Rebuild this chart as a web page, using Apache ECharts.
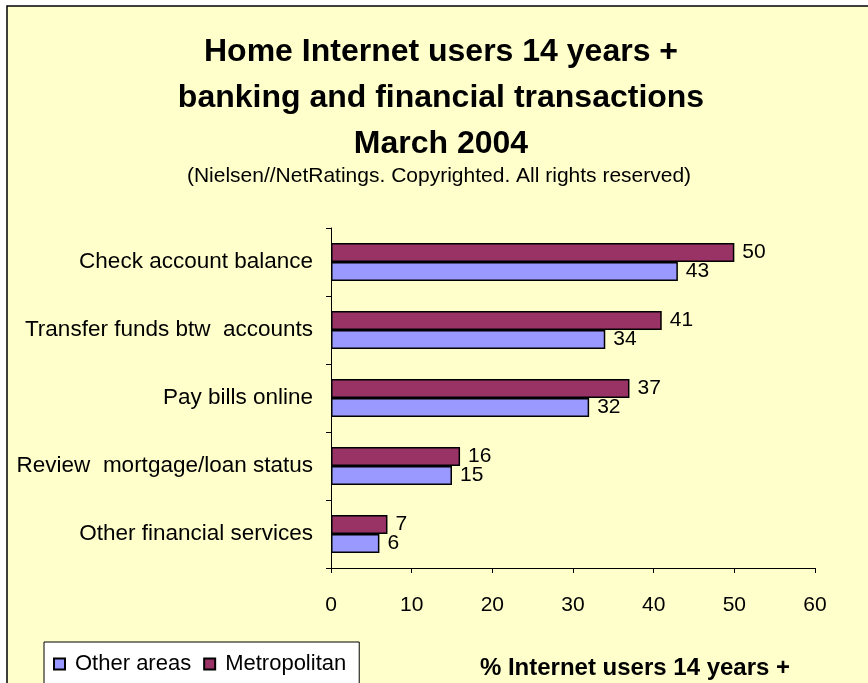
<!DOCTYPE html>
<html>
<head>
<meta charset="utf-8">
<script src="https://cdn.jsdelivr.net/npm/echarts@6/dist/echarts.min.js"></script>
<style>
  html, body { margin: 0; padding: 0; background: #ffffff; }
  #chart { width: 868px; height: 683px; }
</style>
</head>
<body>
<div id="chart"></div>
<script>
// Activities, listed top to bottom
const categories = [
  'Check account balance',
  'Transfer funds btw  accounts',
  'Pay bills online',
  'Review  mortgage/loan status',
  'Other financial services'
];
// Share of home Internet users 14+ (%)
const otherAreas = [43, 34, 32, 15, 6];
const metropolitan = [50, 41, 37, 16, 7];
const xTicks = { min: 0, max: 60, interval: 10 };

const FONT = "'Liberation Sans', Arial, sans-serif";

const chart = echarts.init(document.getElementById('chart'), null, { renderer: 'canvas' });

const labelStyle = {
  show: true,
  position: 'right',
  distance: 8,
  color: '#000',
  fontSize: 21,
  fontFamily: FONT
};

chart.setOption({
  animation: false,
  backgroundColor: '#ffffff',
  graphic: [{
    type: 'rect',
    z: -10,
    shape: { x: 7, y: 6, width: 900, height: 720 },
    style: { fill: '#FFFFCC', stroke: '#000', lineWidth: 1.5 }
  }],
  title: [{
    text: 'Home Internet users 14 years +\nbanking and financial transactions\nMarch 2004',
    left: 436,
    top: 24,
    textAlign: 'center',
    textStyle: { fontFamily: FONT, fontSize: 32, fontWeight: 'bold', color: '#000', lineHeight: 46 }
  }, {
    text: '(Nielsen//NetRatings. Copyrighted. All rights reserved)',
    left: 434,
    top: 161,
    textAlign: 'center',
    textStyle: { fontFamily: FONT, fontSize: 21, fontWeight: 'normal', color: '#000' }
  }, {
    text: '% Internet users 14 years +',
    left: 630,
    top: 651,
    textAlign: 'center',
    textStyle: { fontFamily: FONT, fontSize: 24, fontWeight: 'bold', color: '#000' }
  }],
  legend: {
    data: ['Other areas', 'Metropolitan'],
    orient: 'horizontal',
    left: 44,
    top: 642,
    padding: [11, 13, 30, 9],
    backgroundColor: '#ffffff',
    borderColor: '#000',
    borderWidth: 1,
    borderRadius: 0,
    itemGap: 12,
    itemWidth: 11,
    itemHeight: 11,
    icon: 'rect',
    textStyle: { fontFamily: FONT, fontSize: 22, color: '#000', padding: [0, 0, 0, 5] }
  },
  grid: { left: 331, right: 53, top: 228, bottom: 115, containLabel: false },
  xAxis: {
    type: 'value',
    min: xTicks.min,
    max: xTicks.max,
    interval: xTicks.interval,
    axisLine: { show: true, lineStyle: { color: '#000', width: 1 } },
    axisTick: { show: true, inside: false, length: 5, lineStyle: { color: '#000' } },
    splitLine: { show: false },
    axisLabel: { margin: 27, color: '#000', fontSize: 21, fontFamily: FONT }
  },
  yAxis: {
    type: 'category',
    inverse: true,
    data: categories,
    axisLine: { show: true, lineStyle: { color: '#000', width: 1 } },
    axisTick: { show: true, inside: false, length: 5, alignWithLabel: false, lineStyle: { color: '#000' } },
    axisLabel: { margin: 18, color: '#000', fontSize: 22.5, fontFamily: FONT }
  },
  // Metropolitan listed first so it sits above Other areas in each group
  series: [{
    name: 'Metropolitan',
    type: 'bar',
    data: metropolitan,
    barGap: '0%',
    barCategoryGap: '44%',
    itemStyle: { color: '#993366', borderColor: '#000', borderWidth: 1.5 },
    label: labelStyle
  }, {
    name: 'Other areas',
    type: 'bar',
    data: otherAreas,
    barGap: '0%',
    barCategoryGap: '44%',
    itemStyle: { color: '#9999FF', borderColor: '#000', borderWidth: 1.5 },
    label: labelStyle
  }]
});
</script>
</body>
</html>
